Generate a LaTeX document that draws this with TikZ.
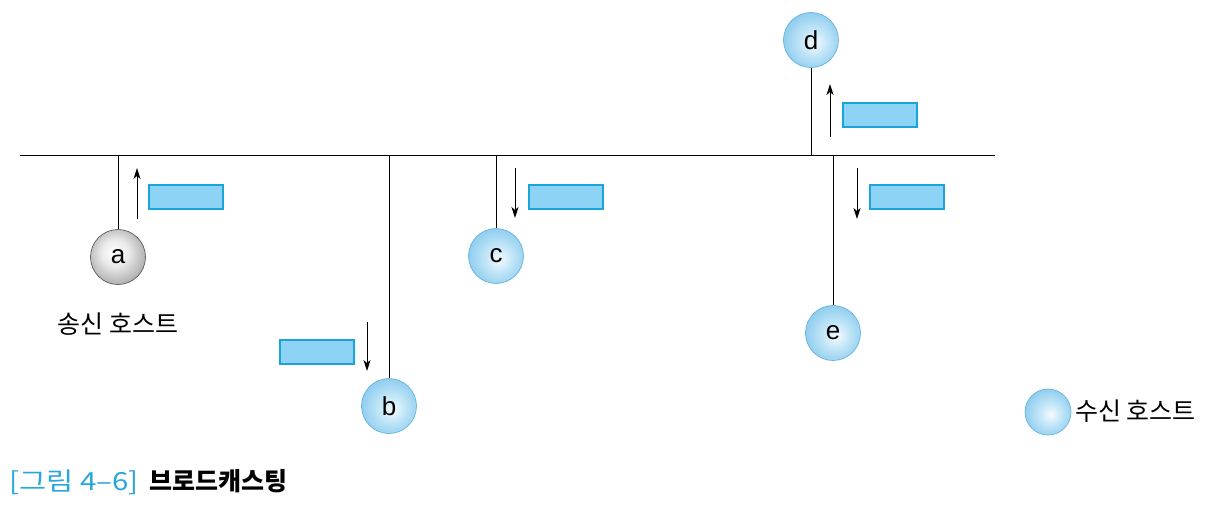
\documentclass[tikz,border=0pt]{standalone}
\usepackage{fontspec}
\setmainfont{Noto Sans CJK KR}
\newfontfamily\lat{Liberation Sans}
\usetikzlibrary{arrows.meta}
\definecolor{rectfill}{HTML}{8DD3F5}
\definecolor{rectline}{HTML}{1BA3DC}
\definecolor{ballline}{HTML}{5AAEDD}
\definecolor{balledge}{HTML}{8CCBEE}
\definecolor{ballmid}{HTML}{C2E6F8}
\definecolor{capblue}{HTML}{2AA6DE}
\pgfdeclareradialshading{bluesphere}{\pgfpoint{3bp}{-3bp}}{color(0bp)=(white!85!ballmid); color(12bp)=(ballmid); color(28bp)=(balledge); color(50bp)=(balledge!80!blue!90!black)}
\pgfdeclareradialshading{graysphere}{\pgfpoint{-4bp}{5bp}}{color(0bp)=(white); color(12bp)=(black!8); color(28bp)=(black!32); color(50bp)=(black!55)}
\tikzset{
  host/.style={circle, minimum size=55pt, inner sep=0pt, draw=ballline, line width=0.6pt, shading=bluesphere, font=\lat\fontsize{26}{26}\selectfont},
  sender/.style={host, draw=black!70, shading=graysphere},
  pkt/.style={draw=rectline, fill=rectfill, line width=2.2pt, minimum width=74pt, minimum height=24pt, inner sep=0pt},
  wire/.style={line width=1pt},
  flow/.style={line width=1pt, -{Stealth[length=11pt,width=7pt,inset=3pt]}},
  lbl/.style={font=\fontsize{25}{25}\selectfont, inner sep=0pt}
}
\begin{document}
\begin{tikzpicture}[x=1pt,y=-1pt]
\useasboundingbox (0,0) rectangle (1212,509);
% bus
\coordinate (busL) at (20,155);
\coordinate (busR) at (995,155);
\draw[wire] (busL) -- (busR);
% hosts
\node[sender] (a) at (118,257) {a};
\node[host] (b) at (389,406) {b};
\node[host] (c) at (496,256) {c};
\node[host] (d) at (811,40) {d};
\node[host] (e) at (833,333) {e};
% taps
\coordinate (ja) at (118,155);
\coordinate (jb) at (389,155);
\coordinate (jc) at (496,155);
\coordinate (jd) at (811,155);
\coordinate (je) at (833,155);
\draw[wire] (ja) -- (a);
\draw[wire] (jb) -- (b);
\draw[wire] (jc) -- (c);
\draw[wire] (jd) -- (d);
\draw[wire] (je) -- (e);
% packets
\node[pkt] (pa) at (186,197) {};
\node[pkt] (pb) at (317,352) {};
\node[pkt] (pc) at (566,197) {};
\node[pkt] (pd) at (880,115) {};
\node[pkt] (pe) at (907,197) {};
% arrows
\coordinate (a1) at (137,219); \coordinate (a2) at (137,168);
\coordinate (b1) at (367,322); \coordinate (b2) at (367,371);
\coordinate (c1) at (515,168); \coordinate (c2) at (515,218);
\coordinate (d1) at (830,137); \coordinate (d2) at (830,84);
\coordinate (e1) at (857,168); \coordinate (e2) at (857,219);
\draw[flow] (a1) -- (a2);
\draw[flow] (b1) -- (b2);
\draw[flow] (c1) -- (c2);
\draw[flow] (d1) -- (d2);
\draw[flow] (e1) -- (e2);
% labels
\node[lbl] (sl) at (118,324) {송신 호스트};
\node[host, minimum size=46pt] (leg) at (1048,412) {};
\node[lbl, anchor=west] (ll) at (1075,411) {수신 호스트};
\node[lbl, anchor=west, font=\fontsize{25}{25}\selectfont] (cap) at (9,482) {{\addfontfeature{FakeStretch=1.18}\textcolor{capblue}{[그림 4–6]}}\hspace{11pt}\textbf{브로드캐스팅}};
\end{tikzpicture}
\end{document}
